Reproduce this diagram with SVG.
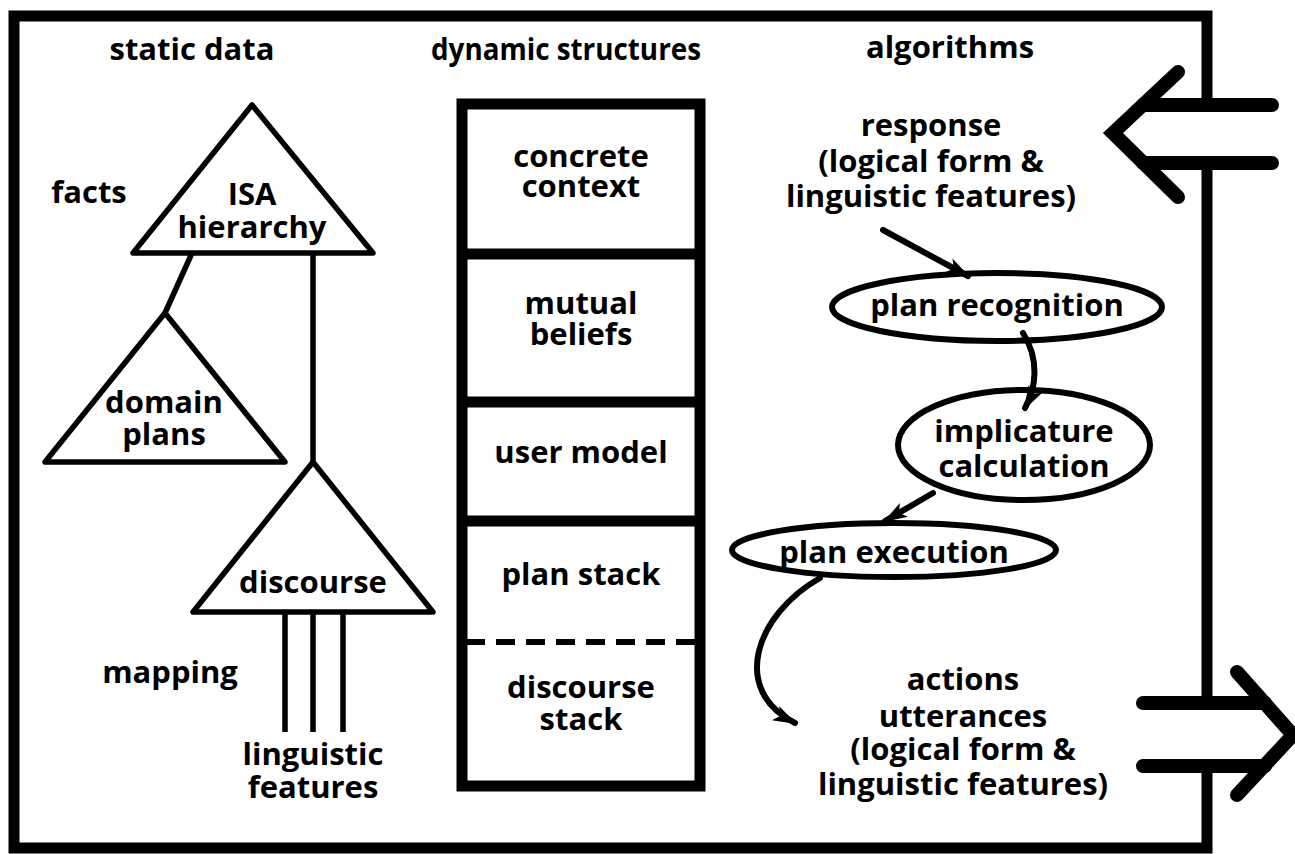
<svg xmlns="http://www.w3.org/2000/svg" width="1295" height="854" viewBox="0 0 1295 854">
<style>
  text { font-family: "Open Sans", "Liberation Sans", sans-serif; font-weight: 700; font-size: 31px; fill: #000; text-anchor: middle; }
  .thin { fill: none; stroke: #000; stroke-width: 5.5; stroke-linejoin: round; }
  .frame { fill: none; stroke: #000; stroke-width: 11; stroke-linejoin: miter; }
  .big { fill: none; stroke: #000; stroke-width: 14; stroke-linecap: round; stroke-linejoin: miter; }
  .ell { fill: none; stroke: #000; stroke-width: 6; }
  .conn { fill: none; stroke: #000; stroke-width: 6; stroke-linecap: round; }
</style>
<defs>
  <marker id="ah" markerUnits="userSpaceOnUse" markerWidth="26" markerHeight="20" refX="22" refY="10" orient="auto">
    <path d="M0,2 L24,10 L0,18 L6,10 Z" fill="#000"/>
  </marker>
</defs>
<rect width="1295" height="854" fill="#fff"/>

<g id="frame">
  <path class="frame" d="M1207,100 V16 H14 V848 H1207 V766"/>
  <path class="frame" d="M1207,163 V703"/>
</g>

<g id="input-arrow">
  <path class="big" d="M1178,72 L1113,133 L1178,197"/>
  <path class="big" d="M1143,105 H1272 M1143,163 H1272" stroke-linecap="butt"/>
</g>
<g id="output-arrow">
  <path class="big" d="M1237,672 L1293,735 L1237,795"/>
  <path class="big" d="M1143,703 H1265 M1143,766 H1265" stroke-linecap="butt"/>
</g>

<g id="headings">
  <text x="192" y="60">static data</text>
  <text x="566" y="60" textLength="270" lengthAdjust="spacingAndGlyphs">dynamic structures</text>
  <text x="950" y="58">algorithms</text>
</g>

<g id="facts-label"><text x="89" y="203">facts</text></g>
<g id="isa">
  <polygon class="thin" points="252,105 133,253 373,253"/>
  <text x="252" y="205">ISA<tspan x="252" y="238">hierarchy</tspan></text>
</g>
<g id="domain">
  <polygon class="thin" points="165,313 45,462 285,462"/>
  <text x="164" y="413">domain<tspan x="164" y="445">plans</tspan></text>
</g>
<g id="discourse">
  <polygon class="thin" points="313,462 193,612 433,612"/>
  <text x="313" y="593">discourse</text>
</g>
<g id="mapping-label"><text x="170" y="683">mapping</text></g>
<g id="ling">
  <text x="313" y="765">linguistic<tspan x="313" y="798">features</tspan></text>
</g>

<g id="stack">
  <rect x="462" y="104" width="238" height="682" fill="none" stroke="#000" stroke-width="11"/>
  <path d="M462,254 H700 M462,402 H700 M462,521 H700" stroke="#000" stroke-width="11"/>
  <path d="M466,642 H698" stroke="#000" stroke-width="6" stroke-dasharray="19,11"/>
  <text x="581" y="167">concrete<tspan x="581" y="197">context</tspan></text>
  <text x="581" y="314">mutual<tspan x="581" y="345">beliefs</tspan></text>
  <text x="581" y="463">user model</text>
  <text x="581" y="585">plan stack</text>
  <text x="581" y="698">discourse<tspan x="581" y="730">stack</tspan></text>
</g>

<g id="response">
  <text x="931" y="136">response<tspan x="931" y="172">(logical form &amp;</tspan><tspan x="931" y="207">linguistic features)</tspan></text>
</g>
<g id="plan-recognition">
  <ellipse class="ell" cx="997" cy="307" rx="165" ry="34"/>
  <text x="997" y="316">plan recognition</text>
</g>
<g id="implicature">
  <ellipse class="ell" cx="1024" cy="445" rx="126" ry="55"/>
  <text x="1024" y="442">implicature<tspan x="1024" y="477">calculation</tspan></text>
</g>
<g id="plan-execution">
  <ellipse class="ell" cx="894" cy="550" rx="162" ry="27"/>
  <text x="894" y="563">plan execution</text>
</g>
<g id="actions">
  <text x="963" y="690">actions<tspan x="963" y="727">utterances</tspan><tspan x="963" y="760">(logical form &amp;</tspan><tspan x="963" y="795">linguistic features)</tspan></text>
</g>

<g id="connectors">
  <path class="thin" d="M192,253 L165,313"/>
  <path class="thin" d="M313,253 L313,462"/>
  <path class="thin" d="M285,612 V732 M313,612 V732 M343,612 V732"/>
  <path class="conn" d="M883,230 L968,276" marker-end="url(#ah)"/>
  <path class="conn" d="M1023,333 C1040,360 1036,388 1025,408" marker-end="url(#ah)"/>
  <path class="conn" d="M933,493 L885,521" marker-end="url(#ah)"/>
  <path class="conn" d="M820,578 C755,615 730,690 795,723" marker-end="url(#ah)"/>
</g>
</svg>
